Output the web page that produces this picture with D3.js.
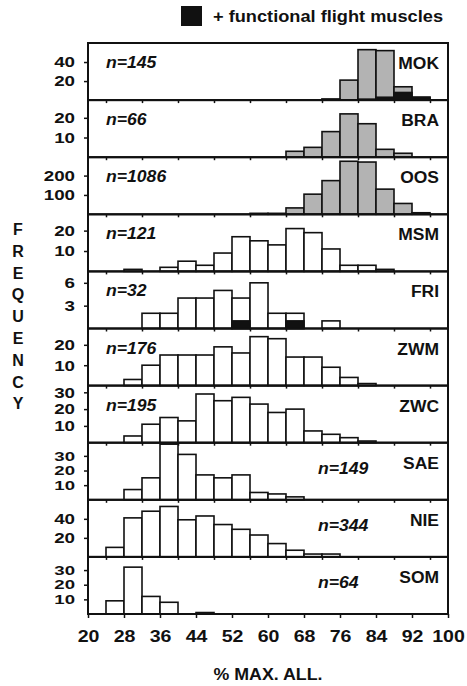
<!DOCTYPE html>
<html lang="en">
<head>
  <meta charset="UTF-8">
  <title>Flight muscle histograms</title>
  <script src="https://d3js.org/d3.v7.min.js"></script>
  <style>
    body { margin: 0; background: #fff; }
    svg text { font-family: "Liberation Sans", Arial, sans-serif; font-weight: bold; fill: #111; }
    .bar { stroke: #111; stroke-width: 1.6; }
    .frame { fill: none; stroke: #111; stroke-width: 2; }
    .axis path { display: none; }
    .axis line { stroke: #111; stroke-width: 1.5; }
  </style>
</head>
<body>
  <div id="chart"></div>

  <script>
    // populations, top to bottom
    const populations = ["MOK", "BRA", "OOS", "MSM", "FRI", "ZWM", "ZWC", "SAE", "NIE", "SOM"];
    const sampleSizes = [145, 66, 1086, 121, 32, 176, 195, 149, 344, 64];
    // left edge of the first 4%-wide bin of each histogram
    const binStart = [72, 64, 56, 28, 32, 28, 28, 28, 24, 24];
    // frequency per bin (all individuals)
    const counts = [
      [1, 21, 53, 52, 14, 3],
      [3, 5, 13, 22, 17, 4, 2],
      [5, 5, 33, 104, 174, 274, 270, 130, 56, 8],
      [1, 0, 2, 5, 3, 9, 17, 15, 13, 21, 19, 11, 3, 3, 1],
      [2, 2, 4, 4, 5, 4, 6, 2, 2, 0, 1],
      [3, 10, 15, 15, 15, 19, 16, 24, 23, 14, 14, 9, 4, 1],
      [4, 11, 15, 13, 29, 25, 27, 23, 18, 20, 7, 5, 3, 1],
      [7, 15, 38, 31, 17, 15, 17, 5, 4, 2],
      [10, 41, 48, 53, 39, 43, 34, 29, 23, 14, 7, 3, 3],
      [9, 32, 12, 8, 0, 1]
    ];
    // of which with functional flight muscles
    const functionalCounts = [
      [1, 0, 1, 3, 8, 3],
      [],
      [],
      [],
      [0, 0, 0, 0, 0, 1, 0, 0, 1, 0, 0],
      [], [], [], [], []
    ];
    const yMax = [60, 29, 295, 28, 7.5, 28, 34, 39, 60, 39];
    const yTicks = [[20, 40], [10, 20], [100, 200], [10, 20], [3, 6], [10, 20], [10, 20, 30], [10, 20, 30], [20, 40], [10, 20, 30]];
    const xTicks = d3.range(20, 101, 8);
    const wingedPops = new Set(["MOK", "BRA", "OOS"]);

    const margin = { top: 43, right: 19, bottom: 72, left: 88 },
          width = 467 - margin.left - margin.right,
          height = 686 - margin.top - margin.bottom;

    const root = d3.select("#chart")
      .append("svg")
      .attr("width", 467)
      .attr("height", 686);

    const svg = root.append("g")
      .attr("transform", `translate(${margin.left},${margin.top})`);

    // the scanned lettering is a bit wider than the font
    function widen(sel, f) {
      sel.each(function () {
        const w = this.getComputedTextLength();
        this.setAttribute("textLength", w * f);
        this.setAttribute("lengthAdjust", "spacingAndGlyphs");
      });
    }

    const x = d3.scaleLinear().domain([20, 100]).range([0, width]);
    const band = d3.scaleBand().domain(populations).range([0, height]);
    const ph = band.bandwidth();

    populations.forEach((pop, i) => {
      const g = svg.append("g").attr("transform", `translate(0,${band(pop)})`);
      const y = d3.scaleLinear().domain([0, yMax[i]]).range([ph, 0]);
      const bins = counts[i].map((c, j) => ({ x0: binStart[i] + 4 * j, c, f: functionalCounts[i][j] || 0 }));

      g.selectAll(".bar")
        .data(bins.filter(d => d.c > 0))
        .enter()
        .append("rect")
        .attr("class", "bar")
        .attr("fill", wingedPops.has(pop) ? "#b3b3b3" : "#fff")
        .attr("x", d => x(d.x0))
        .attr("width", d => x(d.x0 + 4) - x(d.x0))
        .attr("y", d => y(d.c))
        .attr("height", d => ph - y(d.c));

      g.selectAll(".func")
        .data(bins.filter(d => d.f > 0))
        .enter()
        .append("rect")
        .attr("class", "func bar")
        .attr("fill", "#111")
        .attr("x", d => x(d.x0))
        .attr("width", d => x(d.x0 + 4) - x(d.x0))
        .attr("y", d => y(d.f))
        .attr("height", d => ph - y(d.f));

      // tight tick spacing -> smaller labels so they don't collide
      const step = y(yTicks[i][0]) - y(yTicks[i][1]);
      const fs = Math.min(15, step / 1.14);
      const ax = g.append("g")
        .attr("class", "axis")
        .call(d3.axisLeft(y).tickValues(yTicks[i]).tickSize(4).tickPadding(9).tickFormat(d3.format("d")));
      ax.selectAll("text").style("font-size", fs + "px").style("font-family", null);
      widen(ax.selectAll("text"), 1.25 * 15 / fs > 1.45 ? 1.45 : 1.25 * 15 / fs);

      if (i < populations.length - 1) {
        g.append("g")
          .attr("class", "axis")
          .attr("transform", `translate(0,${ph})`)
          .call(d3.axisBottom(x).tickValues(d3.range(24, 100, 8)).tickSize(3).tickFormat(""));
      } else {
        const bx = g.append("g")
          .attr("class", "axis")
          .attr("transform", `translate(0,${ph})`)
          .call(d3.axisBottom(x).tickValues(xTicks).tickSize(4).tickPadding(12));
        bx.selectAll("text").style("font-size", "17px").style("font-family", null);
        widen(bx.selectAll("text"), 1.15);
      }

      g.append("rect")
        .attr("class", "frame")
        .attr("width", width)
        .attr("height", ph);

      const nameT = g.append("text")
        .attr("x", width - 9)
        .attr("y", 26)
        .attr("text-anchor", "end")
        .style("font-size", "16px")
        .text(pop);
      widen(nameT, 1.09);

      // n label goes to whichever side the histogram leaves free
      const mean = d3.sum(bins, d => d.c * (d.x0 + 2)) / d3.sum(bins, d => d.c);
      const leftSide = mean > 48;
      const nT = g.append("text")
        .attr("x", leftSide ? 18 : 230)
        .attr("y", leftSide ? 25 : 31)
        .style("font-size", "16px")
        .style("font-style", "italic")
        .text(`n=${sampleSizes[i]}`);
      widen(nT, 1.1);
    });

    const xt = svg.append("text")
      .attr("x", width / 2)
      .attr("y", height + 66)
      .attr("text-anchor", "middle")
      .style("font-size", "16px")
      .text("% MAX. ALL.");
    widen(xt, 1.11);

    root.append("g")
      .selectAll("text")
      .data("FREQUENCY".split(""))
      .enter()
      .append("text")
      .attr("x", 18)
      .attr("y", (d, k) => 235 + k * 21.8)
      .attr("text-anchor", "middle")
      .style("font-size", "16px")
      .text(d => d);

    root.append("rect")
      .attr("x", 181)
      .attr("y", 6)
      .attr("width", 21)
      .attr("height", 20)
      .attr("fill", "#111");

    root.append("text")
      .attr("x", 213)
      .attr("y", 22)
      .attr("textLength", 230)
      .attr("lengthAdjust", "spacingAndGlyphs")
      .style("font-size", "16px")
      .text("+ functional flight muscles");
  </script>
</body>
</html>
